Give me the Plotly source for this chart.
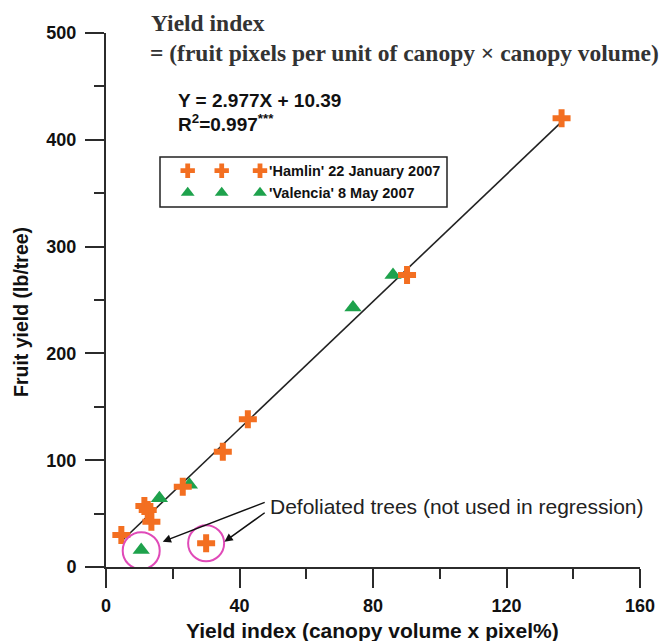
import plotly.graph_objects as go

# ---------------- data ----------------
hamlin_x = [4.6, 11.5, 12.5, 13.6, 23.0, 35.0, 42.5, 90.2, 136.5]
hamlin_y = [30.0, 57.1, 53.4, 42.4, 75.2, 108.0, 138.3, 273.4, 420.1]
valencia_x = [16.0, 25.0, 74.0, 86.0]
valencia_y = [64.3, 76.9, 242.9, 273.5]
defoliated_hamlin_x = [30.0]
defoliated_hamlin_y = [22.2]
defoliated_valencia_x = [10.55]
defoliated_valencia_y = [16.0]
fit_slope = 2.977
fit_intercept = 10.39
fit_x = [5.0, 136.5]
x_tick_vals = [0, 40, 80, 120, 160]
y_tick_vals = [0, 100, 200, 300, 400, 500]
legend_labels = ["'Hamlin' 22 January 2007", "'Valencia' 8 May 2007"]

# ---------------- styling ----------------
ORANGE = "#f36f21"
GREEN = "#1ea24c"
MAGENTA = "#e04ab8"
AXIS = "#2b2b2b"
SANS = "Liberation Sans, Arial, sans-serif"
SERIF = "Liberation Serif, Times New Roman, serif"

W, H = 668, 641
ML, MR, MT, MB = 106, 28, 33, 74
PW, PH = W - ML - MR, H - MT - MB


def px(xp):
    return (xp - ML) / PW


def py(yp):
    return (H - MB - yp) / PH


fit_y = [fit_slope * v + fit_intercept for v in fit_x]

fig = go.Figure()

fig.add_trace(go.Scatter(x=fit_x, y=fit_y, mode="lines",
                         line=dict(color="#222222", width=1.6),
                         showlegend=False, hoverinfo="skip"))
fig.add_trace(go.Scatter(x=valencia_x + defoliated_valencia_x,
                         y=valencia_y + defoliated_valencia_y, mode="markers",
                         marker=dict(symbol="triangle-up", size=15, color=GREEN,
                                     line=dict(width=0)),
                         showlegend=False))
fig.add_trace(go.Scatter(x=hamlin_x + defoliated_hamlin_x,
                         y=hamlin_y + defoliated_hamlin_y, mode="markers",
                         marker=dict(symbol="cross", size=15, color=ORANGE,
                                     line=dict(width=0)),
                         showlegend=False))

# ---------------- custom legend on its own axes ----------------
box_l, box_r, box_t, box_b = 160, 447, 157, 207
legend_marker_px = [187.7, 221.7, 260.0]
legend_row_px = [170.7, 192.7]
symbols = [("cross", ORANGE, 12), ("triangle-up", GREEN, 12)]
for i, lab in enumerate(legend_labels):
    sym, col, sz = symbols[i]
    fig.add_trace(go.Scatter(
        x=[(m - box_l) for m in legend_marker_px],
        y=[box_b - legend_row_px[i]] * 3,
        xaxis="x2", yaxis="y2", mode="markers",
        marker=dict(symbol=sym, size=sz, color=col, line=dict(width=0)),
        showlegend=False, hoverinfo="skip"))
    fig.add_annotation(xref="x2", yref="y2", x=267 - box_l,
                       y=box_b - legend_row_px[i], text=lab,
                       showarrow=False, xanchor="left", yanchor="middle",
                       font=dict(family=SANS, size=14.5, color="#111111",
                                 weight="bold"))

fig.add_shape(type="rect", xref="paper", yref="paper",
              x0=px(box_l), x1=px(box_r), y0=py(box_b), y1=py(box_t),
              line=dict(color="#222222", width=1.5))

# ---------------- circles around defoliated trees ----------------
for cx, cy, r in [(defoliated_valencia_x[0], 15.3, 18.5),
                  (defoliated_hamlin_x[0], 22.2, 18.0)]:
    rx = r / (PW / 160)
    ry = r / (PH / 500)
    fig.add_shape(type="circle", xref="x", yref="y",
                  x0=cx - rx, x1=cx + rx, y0=cy - ry, y1=cy + ry,
                  line=dict(color=MAGENTA, width=2))

# arrows
for hx, hy, tx, ty in [(17.0, 23.7, 48.0, 61.1), (35.5, 23.7, 48.0, 51.8)]:
    fig.add_annotation(x=hx, y=hy, ax=tx, ay=ty, xref="x", yref="y",
                       axref="x", ayref="y", text="", showarrow=True,
                       arrowhead=2, arrowsize=1.1, arrowwidth=1.5,
                       arrowcolor="#111111")

fig.add_annotation(xref="paper", yref="paper", x=px(268), y=py(506.7),
                   text="Defoliated trees (not used in regression)",
                   showarrow=False, xanchor="left", yanchor="middle",
                   font=dict(family=SANS, size=21, color="#222222"))

# ---------------- header texts ----------------
fig.add_annotation(xref="paper", yref="paper", x=px(149), y=py(23),
                   text="Yield index", showarrow=False, xanchor="left",
                   yanchor="middle",
                   font=dict(family=SERIF, size=23.5, color="#333333", weight="bold"))
fig.add_annotation(xref="paper", yref="paper", x=px(148), y=py(53),
                   text="= (fruit pixels per unit of canopy \u00d7 canopy volume)",
                   showarrow=False, xanchor="left", yanchor="middle",
                   font=dict(family=SERIF, size=23.5, color="#333333", weight="bold"))
fig.add_annotation(xref="paper", yref="paper", x=px(176), y=py(100.7),
                   text="Y = 2.977X + 10.39", showarrow=False, xanchor="left",
                   yanchor="middle",
                   font=dict(family=SANS, size=19, color="#111111", weight="bold"))
fig.add_annotation(xref="paper", yref="paper", x=px(176), y=py(122.7),
                   text="R<sup>2</sup>=0.997<sup>***</sup>", showarrow=False,
                   xanchor="left", yanchor="middle",
                   font=dict(family=SANS, size=19, color="#111111", weight="bold"))

# axis titles
fig.add_annotation(xref="paper", yref="paper", x=px(372), y=py(630),
                   text="Yield index (canopy volume x pixel%)", showarrow=False,
                   xanchor="center", yanchor="middle",
                   font=dict(family=SANS, size=21, color="#111111", weight="bold"))
fig.add_annotation(xref="paper", yref="paper", x=px(21), y=py(312),
                   text="Fruit yield (lb/tree)", showarrow=False, textangle=-90,
                   xanchor="center", yanchor="middle",
                   font=dict(family=SANS, size=19.5, color="#111111", weight="bold"))

axis_common = dict(showline=True, linecolor=AXIS, linewidth=2, ticks="outside",
                   tickcolor=AXIS, tickwidth=2, ticklen=19, showgrid=False,
                   zeroline=False,
                   tickfont=dict(family=SANS, size=18, color="#111111",
                                 weight="bold"))

fig.update_layout(
    width=W, height=H, autosize=False,
    margin=dict(l=ML, r=MR, t=MT, b=MB, pad=0),
    paper_bgcolor="white", plot_bgcolor="white",
    showlegend=False,
    xaxis=dict(range=[0, 160], tickvals=x_tick_vals, ticklabelstandoff=2,
               minor=dict(tickvals=[20, 60, 100, 140], ticks="outside",
                          ticklen=10, tickwidth=2, tickcolor=AXIS),
               **axis_common),
    yaxis=dict(range=[0, 500], tickvals=y_tick_vals, ticklabelstandoff=5,
               minor=dict(tickvals=[50, 150, 250, 350, 450], ticks="outside",
                          ticklen=10, tickwidth=2, tickcolor=AXIS),
               **axis_common),
    xaxis2=dict(domain=[px(box_l), px(box_r)], range=[0, box_r - box_l],
                anchor="y2", visible=False, fixedrange=True),
    yaxis2=dict(domain=[py(box_b), py(box_t)], range=[0, box_b - box_t],
                anchor="x2", visible=False, fixedrange=True),
)

fig.write_html("out.html", config={"displayModeBar": False},
               post_script="document.body.style.margin='0';"
                           "document.body.style.overflow='hidden';")
